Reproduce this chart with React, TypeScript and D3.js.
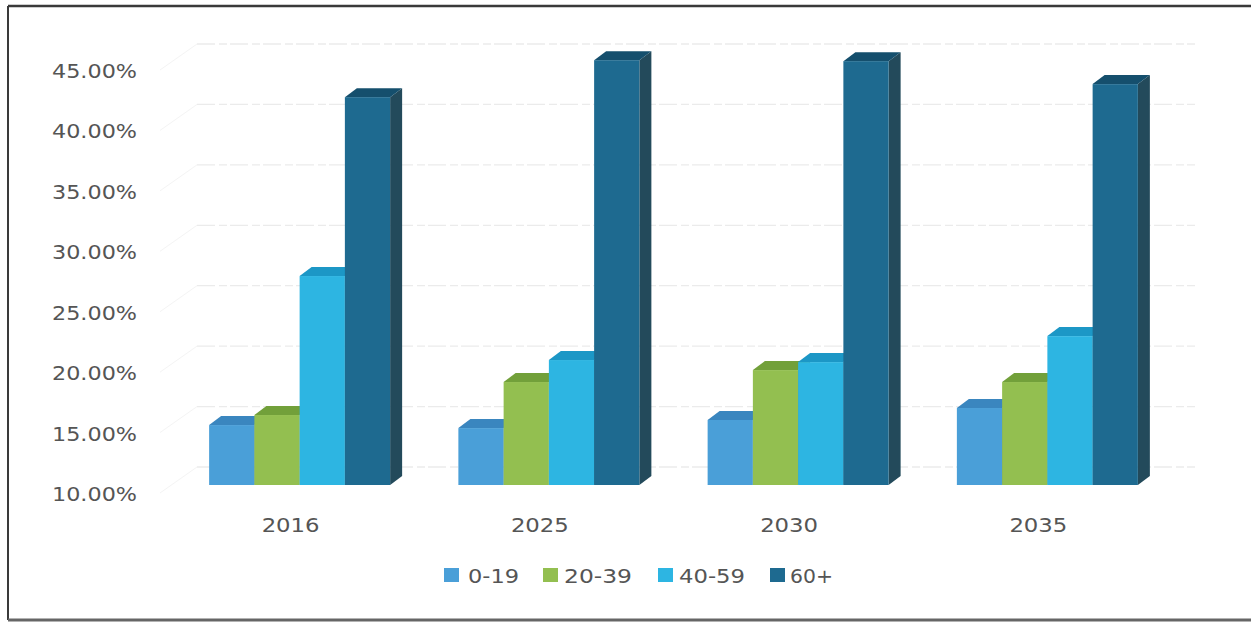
import React from "react";
import * as d3 from "d3";

const years = ["2016", "2025", "2030", "2035"];
const groups = ["0-19", "20-39", "40-59", "60+"];
const s0_19 = [14.96, 14.71, 15.38, 16.37];
const s20_39 = [15.79, 18.52, 19.51, 18.52];
const s40_59 = [27.29, 20.34, 20.17, 22.32];
const s60p = [42.09, 45.15, 45.07, 43.17];
const seriesValues = [s0_19, s20_39, s40_59, s60p];
const yTicks = [10, 15, 20, 25, 30, 35, 40, 45];

const frontColors = ["#4a9fd8", "#93bf50", "#2db5e2", "#1e6a90"];
const topColors = ["#3a86bf", "#72a03a", "#1c97c6", "#154f6d"];
const sideColors = ["#2f6f9e", "#5d8530", "#187fa6", "#234a5b"];

const W = 1251;
const H = 622;
const FONT = "'DejaVu Sans', Verdana, sans-serif";

export default function App() {
  const x0 = d3.scaleBand<string>().domain(years).range([175, 1172]).paddingInner(0).paddingOuter(0);
  const groupW = 181;
  const x1 = d3.scaleBand<string>().domain(groups).range([0, groupW]).padding(0);
  const y = d3.scaleLinear().domain([10, 45]).range([485, 62]);
  const dx = 12;
  const dy = -9;
  const wallDx = 22;
  const wallDy = -18;
  const fmt = (v: number) => v.toFixed(2) + "%";

  const bars: React.ReactNode[] = [];
  years.forEach((yr, i) => {
    const gx = (x0(yr) as number) + x0.bandwidth() / 2 - groupW / 2;
    groups.forEach((g, k) => {
      const v = seriesValues[k][i];
      const xl = gx + (x1(g) as number);
      const xr = xl + x1.bandwidth();
      const yt = y(v);
      const yb = y(10);
      bars.push(
        <g key={yr + g}>
          <polygon
            points={`${xr},${yt} ${xr + dx},${yt + dy} ${xr + dx},${yb + dy} ${xr},${yb}`}
            fill={sideColors[k]}
          />
          <polygon
            points={`${xl},${yt} ${xl + dx},${yt + dy} ${xr + dx},${yt + dy} ${xr},${yt}`}
            fill={topColors[k]}
          />
          <rect x={xl} y={yt} width={xr - xl} height={yb - yt} fill={frontColors[k]} />
        </g>
      );
    });
  });

  const wallLeft = 175 + wallDx;
  const wallRight = 1195;

  const legendItems = [
    { x: 444, tx: 468, tl: 51, label: groups[0] },
    { x: 543, tx: 564, tl: 68, label: groups[1] },
    { x: 658, tx: 679, tl: 66, label: groups[2] },
    { x: 770, tx: 790, tl: 43, label: groups[3] },
  ];

  return (
    <svg
      width={W}
      height={H}
      style={{ position: "absolute", left: 0, top: 0, background: "#fff" }}
    >
      <rect x={0} y={0} width={W} height={H} fill="#fff" />
      {/* frame */}
      <line x1={8} y1={6} x2={W} y2={6} stroke="#3a3a3a" strokeWidth={2.5} />
      <line x1={8} y1={6} x2={8} y2={620} stroke="#3a3a3a" strokeWidth={2} />
      <line x1={8} y1={620} x2={W} y2={620} stroke="#666" strokeWidth={3} />

      {/* back wall gridlines and side wall */}
      {yTicks.map((t) => (
        <g key={"g" + t}>
          <line
            x1={wallLeft}
            x2={wallRight}
            y1={y(t) + wallDy}
            y2={y(t) + wallDy}
            stroke="#ebebeb"
            strokeWidth={1.3}
            strokeDasharray="18 4 8 3"
          />
          <line
            x1={160}
            x2={wallLeft}
            y1={y(t) + 8}
            y2={y(t) + wallDy}
            stroke="#f4f4f4"
            strokeWidth={1}
          />
        </g>
      ))}

      {bars}

      {/* y axis labels */}
      {yTicks.map((t) => (
        <text
          key={"yl" + t}
          x={52}
          y={y(t) + 9}
          dy="0.35em"
          textLength={85}
          lengthAdjust="spacingAndGlyphs"
          fontFamily={FONT}
          fontSize={20}
          fill="#555"
        >
          {fmt(t)}
        </text>
      ))}

      {/* x axis labels */}
      {years.map((yr) => (
        <text
          key={"xl" + yr}
          x={(x0(yr) as number) + x0.bandwidth() / 2 - 38}
          y={525}
          dy="0.35em"
          textLength={58}
          lengthAdjust="spacingAndGlyphs"
          fontFamily={FONT}
          fontSize={20}
          fill="#555"
        >
          {yr}
        </text>
      ))}

      {/* legend */}
      {legendItems.map((it, k) => (
        <g key={"lg" + k}>
          <rect x={it.x} y={568} width={15} height={14} fill={frontColors[k]} />
          <text
            x={it.tx}
            y={576}
            dy="0.35em"
            textLength={it.tl}
            lengthAdjust="spacingAndGlyphs"
            fontFamily={FONT}
            fontSize={20}
            fill="#555"
          >
            {it.label}
          </text>
        </g>
      ))}
    </svg>
  );
}
